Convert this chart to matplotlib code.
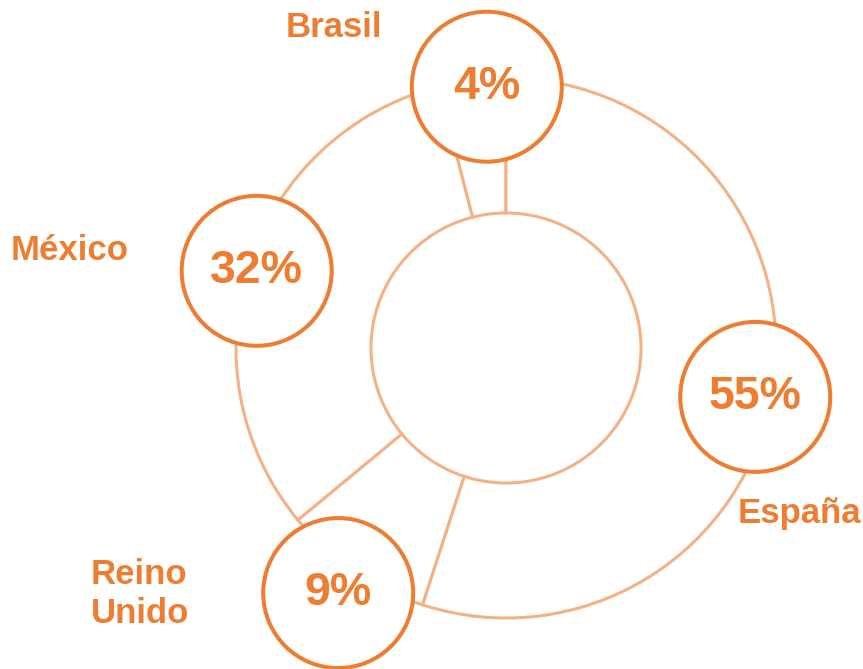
import matplotlib.pyplot as plt
from matplotlib.patches import Circle
import numpy as np

paises = ['Brasil', 'México', 'Reino\nUnido', 'España']
porcentajes = [4, 32, 9, 55]

naranja = '#ED7D31'
naranja_claro = '#F4B183'

# layout en pixeles (y hacia arriba)
W, H = 863, 669
centro = (506, H - 348)
r_ext, r_int = 270, 135
dist_circulo = [262, 261, 297, 254]
ajuste_ang = [-3.0, 0.8, -0.2, -2.1]
offset_label = [(-153, 59), (-187, 20), (-198, -1), (44, -117)]

fig = plt.figure(figsize=(W / 100, H / 100), dpi=100)
ax = fig.add_axes([0, 0, 1, 1])

ax.pie(porcentajes, radius=r_ext, center=centro, startangle=90, counterclock=True,
       wedgeprops=dict(width=r_ext - r_int, facecolor='white',
                       edgecolor=naranja_claro, linewidth=2.2))

acum = np.cumsum(porcentajes) - np.array(porcentajes) / 2
angulos = np.deg2rad(90 + 360 * acum / 100 + np.array(ajuste_ang))

for i, (pais, p) in enumerate(zip(paises, porcentajes)):
    cx = centro[0] + dist_circulo[i] * np.cos(angulos[i])
    cy = centro[1] + dist_circulo[i] * np.sin(angulos[i])
    ax.add_patch(Circle((cx, cy), 75, facecolor='white', edgecolor=naranja,
                        linewidth=2.9, zorder=5))
    ax.text(cx, cy, f'{p}%', ha='center', va='center', fontsize=33.5,
            fontweight='bold', color=naranja, family='Liberation Sans', zorder=6)
    dx, dy = offset_label[i]
    ax.text(cx + dx, cy + dy, pais, ha='center', va='center', fontsize=25,
            fontweight='bold', color=naranja, family='Liberation Sans',
            linespacing=1.2, multialignment='left', zorder=6)

ax.set_xlim(0, W)
ax.set_ylim(0, H)
ax.set_aspect('equal')
ax.axis('off')

fig.savefig('out.png', dpi=100, facecolor='white')
